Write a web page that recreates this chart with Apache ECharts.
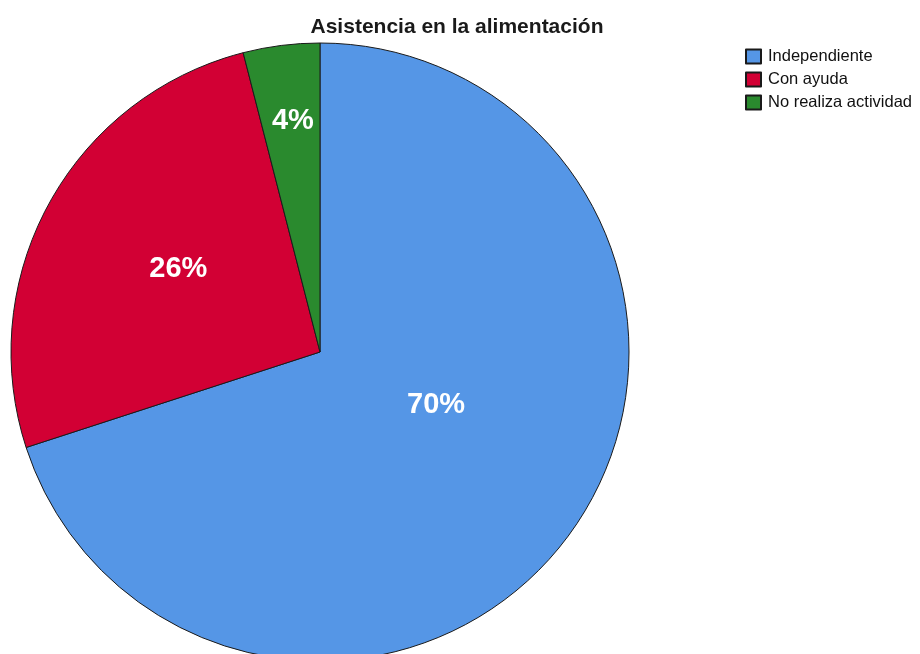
<!DOCTYPE html>
<html>
<head>
<meta charset="utf-8">
<script src="https://cdn.jsdelivr.net/npm/echarts@6/dist/echarts.min.js"></script>
<style>html,body{margin:0;padding:0;background:#fff}#c{width:920px;height:654px}</style>
</head>
<body>
<div id="c"></div>
<script>
var categories = ['Independiente', 'Con ayuda', 'No realiza actividad'];
var values = [70, 26, 4];

// styling / layout (not data)
var colors = ['#5596e6', '#d20034', '#2a8a2e'];
var labelPlacement = [ // [fraction of radius, angle clockwise from top in degrees]
  [0.413, 114.5],
  [0.532, 300.5],
  [0.752, 353.3]
];
var cx = 320, cy = 352, R = 309;

var chart = echarts.init(document.getElementById('c'), null, {renderer: 'canvas'});
var data = categories.map(function (c, i) {
  return { name: c, value: values[i], itemStyle: { color: colors[i] } };
});

chart.setOption({
  animation: false,
  title: {
    text: 'Asistencia en la alimentación',
    left: 452, top: 12, textAlign: 'center',
    textStyle: { fontFamily: 'Liberation Sans', fontSize: 21, fontWeight: 'bold', color: '#1a1a1a' }
  },
  legend: {
    orient: 'vertical', left: 740, top: 43,
    itemWidth: 15, itemHeight: 14, itemGap: 6,
    icon: 'rect',
    textStyle: { fontFamily: 'Liberation Sans', fontSize: 16.5, lineHeight: 14, color: '#111', padding: [0, 0, 0, 2] },
    data: categories
  },
  series: [{
    type: 'pie',
    center: [cx, cy],
    radius: [0, R],
    startAngle: 90,
    clockwise: true,
    avoidLabelOverlap: false,
    silent: true,
    itemStyle: { borderColor: '#1a1a1a', borderWidth: 1 },
    label: {
      show: true, position: 'inside',
      formatter: function (p) { return Math.round(p.percent) + '%'; },
      color: '#fff', fontFamily: 'Liberation Sans', fontSize: 29, fontWeight: 'bold'
    },
    labelLine: { show: false },
    labelLayout: function (p) {
      var pl = labelPlacement[p.dataIndex];
      var a = pl[1] * Math.PI / 180, r = pl[0] * R;
      return { x: cx + r * Math.sin(a), y: cy - r * Math.cos(a), align: 'center', verticalAlign: 'middle' };
    },
    data: data
  }]
});
</script>
</body>
</html>
